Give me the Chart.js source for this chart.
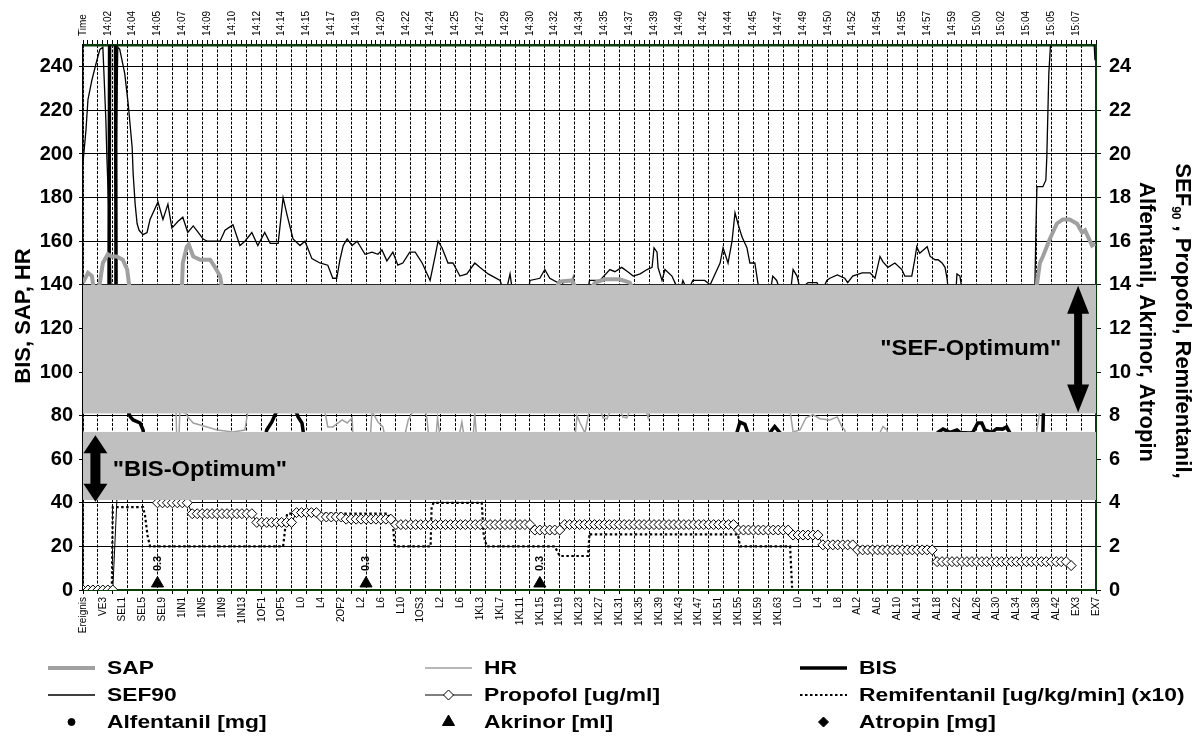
<!DOCTYPE html>
<html>
<head>
<meta charset="utf-8">
<title>Narkoseverlauf</title>
<script src="https://cdn.jsdelivr.net/npm/chart.js@4.4.0/dist/chart.umd.min.js"></script>
<style>
  html, body { margin: 0; padding: 0; background: #fff; }
  #wrap { width: 1199px; height: 736px; }
</style>
</head>
<body>
<div id="wrap"><canvas id="chart" width="1199" height="736"></canvas></div>
<script>
// one sample every 20 s, x = sample number
const eventLabels = ['Ereignis','VE3','SEL1','SEL5','SEL9','1IN1','1IN5','1IN9','1IN13','1OF1','1OF5','L0','L4',
  '2OF2','L2','L6','L10','1OS3','L2','L6','1KL3','1KL7','1KL11','1KL15','1KL19','1KL23','1KL27','1KL31','1KL35',
  '1KL39','1KL43','1KL47','1KL51','1KL55','1KL59','1KL63','L0','L4','L8','AL2','AL6','AL10','AL14','AL18','AL22',
  'AL26','AL30','AL34','AL38','AL42','EX3','EX7'];
const timeLabels = ['Time','14:02','14:04','14:05','14:07','14:09','14:10','14:12','14:14','14:15','14:17','14:19',
  '14:20','14:22','14:24','14:25','14:27','14:29','14:30','14:32','14:34','14:35','14:37','14:39','14:40','14:42',
  '14:44','14:45','14:47','14:49','14:50','14:52','14:54','14:55','14:57','14:59','15:00','15:02','15:04','15:05','15:07'];

// left axis (BIS, SAP, HR) - [sample, value]
const sap = [[0,141],[1,145.5],[1.8,144],[2.2,137],[3,137],[3.4,141],[4,150],[5,154],[5.8,153],[6.8,153],[8,151.5],
  [8.9,147],[9.5,136],[12,120],[19,120],[19.9,137],[20.1,150],[20.9,157.5],[21.3,158.5],[22.2,153],[23.6,151.5],
  [25.6,151.5],[26.6,148],[27.6,144],[28.2,136],[30,120],[94,120],[95,137],[96,141.5],[98.5,142],[99.5,137],[102,137],
  [103.1,141],[105.1,142.5],[108.1,142.5],[110.1,141],[111.2,136],[113,120],[191,120],[192.1,140],[192.7,150],
  [193.3,153],[194.7,161],[196.1,168],[197.3,170],[198.7,170],[200.2,168],[201.2,164],[201.8,165],[202.4,162],
  [203.2,158],[203.8,159]];
const hr = [[0,100],[18,100],[18.7,85],[18.9,68],[19.3,68],[19.5,82],[20.7,81],[21.1,79.4],[22.2,76.6],[25,74.8],
  [27,73.4],[30.2,72.5],[32.6,73.4],[33.2,82],[40,100],[46,100],[48.7,82],[49.3,74.8],[50.3,74.8],[52.2,78],
  [53.2,76.6],[54.2,79],[54.4,68],[57.8,68],[58.2,82],[58.7,80],[59.4,77],[60.4,74.8],[61,68],[64.5,68],[65.5,78],
  [66.5,82],[69,82],[69.3,78],[69.7,68],[71,68],[71.4,79],[72,68],[75.5,68],[76.3,77],[76.9,68],[78.5,68],[78.9,81],
  [79.3,68],[99,68],[99.5,80],[100.1,76.6],[101.1,72],[101.7,79.4],[102.2,85],[104,84],[104.7,79],[105.5,78.5],
  [106.5,84],[108,84],[108.7,79.4],[109.5,79],[110.5,84],[113.2,84],[113.8,79],[114.3,84],[125,100],[140,100],
  [142.4,82],[143,72.5],[144.4,73.4],[145.6,79],[146,79.4],[147,80.5],[148.4,78.6],[150.4,78],[151.9,79.4],
  [152.8,75],[153.4,73.4],[154,68],[160.3,68],[160.5,72.2],[161.1,75],[161.9,73.4],[162.3,68],[191.7,68],
  [192.1,73.4],[192.7,82],[195,95],[203.8,100]];
const bis = [[0,95],[5.2,95],[5.5,400],[6.4,400],[6.7,95],[8.6,90],[9.1,82],[9.5,79.5],[10.1,78],[11.5,76.6],
  [12.1,73.4],[12.7,62],[36,62],[37,73.4],[38,77],[39,82],[39.5,88],[42.5,88],[42.9,82],[43.3,79.5],[44.1,76.6],
  [44.3,73.4],[44.9,62],[131,62],[131.7,72.3],[132.3,77],[133.3,76],[133.9,72],[134.5,62],[137.7,62],[138.3,72],
  [139.3,75],[140.4,72],[141,62],[171.6,62],[172.2,72.3],[173.2,73.8],[174.6,72.3],[176,73.4],[176.6,72.3],
  [178.6,72],[179.2,72.3],[180.2,76.6],[181,76.6],[181.6,73.4],[183,72.3],[184,74],[185.2,73.8],[186,74.8],
  [186.6,72.3],[187.3,62],[192.8,62],[193.3,72],[193.5,90],[203.8,90]];

// right axis - [sample, value]
const sef = [[0,19.6],[0.6,21.1],[1,22.5],[1.8,23.4],[2.8,24.3],[3.4,24.8],[4,24.9],[4.6,21.6],[4.8,19.9],[5.4,16.2],
  [5.9,11.5],[6.5,13.8],[6.7,20],[7,24.9],[7.4,24.8],[8.4,23.7],[9.1,22.3],[9.9,20.3],[10.1,19.1],[10.5,17.7],
  [10.9,16.8],[11.3,16.5],[12.1,16.3],[12.9,16.4],[13.5,17],[15.1,17.8],[16.1,17],[17.1,17.7],[17.9,16.6],[19.1,16.9],
  [20.1,17.1],[21.1,16.4],[22.2,16.7],[23.2,16.4],[24.2,16.1],[25,16],[27.6,16],[28.6,16.5],[30.2,16.75],[31.6,15.8],
  [32.6,16],[34,16.4],[35.2,15.8],[36.6,16.4],[37.7,15.9],[39.3,15.9],[40.3,18],[41.1,17.2],[42.3,16.1],[43.7,15.8],
  [44.7,16],[46.1,15.2],[47.7,15],[49.3,14.9],[50.3,14.3],[51.1,14.3],[51.7,15.1],[52.4,15.8],[53.2,16.1],[54.2,15.8],
  [55.2,16],[56.8,15.4],[58.2,15.5],[59.4,15.4],[60.2,15.6],[61.2,15.1],[62.4,15.5],[63.4,14.9],[64.4,15],[65.8,15.5],
  [66.9,15.5],[68.3,15],[69.9,14.2],[70.9,15.3],[71.5,16],[72.3,15.7],[73.5,15],[74.5,15],[75.9,14.4],[77.3,14.5],
  [78.9,15],[79.9,14.8],[81.6,14.5],[84,14.2],[85,13.5],[86,14.5],[86.6,13.5],[89.6,13.5],[90,14.2],[92,14.3],
  [93,14.7],[94,14.3],[95.6,14.1],[96.5,14.2],[97,13.5],[98.3,13.8],[98.7,14.3],[99,13.5],[101.7,13.8],[102,14.2],
  [104.1,14.2],[106.1,14.7],[107.1,14.6],[108.5,14.8],[109.7,14.6],[110.8,14.4],[112.2,14.5],[113.6,14.7],
  [114.6,14.8],[115,15.7],[115.6,15.5],[115.8,14.8],[116.6,14.2],[117.2,14.7],[118.6,14.4],[119.2,14.1],[120.2,13.6],
  [120.8,14.2],[121.8,13.7],[122.8,14.2],[125.2,14.2],[126.3,14],[128.3,15],[128.9,15.7],[129.9,15],[130.7,16],
  [131.3,17.3],[131.9,16.8],[132.7,16.2],[133.7,15.7],[134.3,15],[135.3,15],[135.9,14.1],[136.9,13.2],[138.3,13.5],
  [138.9,14.4],[139.7,14.2],[140.7,13.5],[142.4,13.5],[143,14.7],[143.8,14.4],[144.4,13.8],[146,14.1],[147,14.1],
  [147.8,14.1],[148.8,13.7],[149.8,14.2],[150.4,14.3],[151.9,14.45],[153.4,14.3],[154,14.1],[155,14.4],[156.9,14.55],
  [158.5,14.55],[159.5,14.3],[160.5,15.3],[161.1,15.05],[162.1,14.8],[163.5,15],[164.9,14.7],[165.5,14.4],
  [166.9,14.4],[167.5,15.15],[167.9,15.75],[168.5,15.45],[170,15.75],[170.6,15.3],[171.6,15.15],[172.2,15.15],
  [173,15],[173.6,14.8],[174,14.3],[174.6,13],[175.6,13],[176,14.5],[176.6,14.4],[177.2,13.5],[178.6,11],[190.7,11],
  [191.7,14],[191.9,16.5],[192.1,18.5],[193.3,18.5],[193.9,18.8],[194.1,19.9],[194.5,23.7],[195.1,26],[203.4,26],
  [203.8,24.3]];
// Propofol, one value per sample (0..199)
const propofol = [
  0, 0, 0, 0, 0, 0, 0,
  5, 5, 5, 5, 5, 5, 5, 5,
  4, 4, 4, 4, 4, 4, 4,
  3.5, 3.5, 3.5, 3.5, 3.5, 3.5, 3.5, 3.5, 3.5, 3.5, 3.5, 3.5, 3.5,
  3.1, 3.1, 3.1, 3.1, 3.1, 3.1, 3.1, 3.1,
  3.55, 3.55, 3.55, 3.55, 3.55,
  3.35, 3.35, 3.35, 3.35, 3.35,
  3.25, 3.25, 3.25, 3.25, 3.25, 3.25, 3.25, 3.25, 3.25, 3.25,
  3, 3, 3, 3, 3, 3, 3, 3, 3, 3, 3, 3, 3, 3, 3, 3, 3, 3, 3, 3, 3, 3, 3, 3, 3, 3, 3, 3,
  2.75, 2.75, 2.75, 2.75, 2.75, 2.75,
  3, 3, 3, 3, 3, 3, 3, 3, 3, 3, 3, 3, 3, 3, 3, 3, 3, 3, 3, 3, 3, 3, 3, 3, 3, 3, 3, 3, 3, 3, 3, 3, 3, 3, 3,
  2.75, 2.75, 2.75, 2.75, 2.75, 2.75, 2.75, 2.75, 2.75, 2.75, 2.75,
  2.52, 2.52, 2.52, 2.52, 2.52, 2.52,
  2.07, 2.07, 2.07, 2.07, 2.07, 2.07, 2.07,
  1.84, 1.84, 1.84, 1.84, 1.84, 1.84, 1.84, 1.84, 1.84, 1.84, 1.84, 1.84, 1.84, 1.84, 1.84, 1.84,
  1.3, 1.3, 1.3, 1.3, 1.3, 1.3, 1.3, 1.3, 1.3, 1.3, 1.3, 1.3, 1.3, 1.3, 1.3, 1.3, 1.3, 1.3, 1.3, 1.3, 1.3, 1.3, 1.3, 1.3, 1.3, 1.3, 1.3,
  1.12
];
const remi = [[0,0],[5.8,0],[6,3.8],[12.1,3.8],[12.5,3.4],[13,2.5],[13.5,2],[40.3,2],[40.7,2.8],[41.1,3.5],[61.4,3.5],
  [62.4,3],[62.8,2],[70,2],[70.2,3.8],[70.6,4],[80.3,4],[80.7,2.5],[81.3,2],[95,2],[96,1.56],[101.7,1.56],[102,2.6],
  [102.3,2.55],[131.9,2.55],[132.3,2],[142.4,2],[142.8,0.1]];
const alfentanil = [];
const akrinor = [[15,0.3],[57,0.3],[92,0.3]];
const atropin = [];

// optimum ranges
const sefOptimum = [8.1, 14];    // right axis
const bisOptimum = [41.3, 72.5]; // left axis

const FONT = "'Liberation Sans', Arial, Helvetica, sans-serif";
const GREEN = '#0b3d0b';
Chart.defaults.font.family = FONT;
Chart.defaults.color = '#000';

const pts = pairs => pairs.map(p => ({x: p[0], y: p[1]}));

function doubleArrow(ctx, cx, yTop, yBot, headW, headL, shaftW) {
  ctx.beginPath();
  ctx.moveTo(cx, yTop);
  ctx.lineTo(cx + headW / 2, yTop + headL);
  ctx.lineTo(cx + shaftW / 2, yTop + headL);
  ctx.lineTo(cx + shaftW / 2, yBot - headL);
  ctx.lineTo(cx + headW / 2, yBot - headL);
  ctx.lineTo(cx, yBot);
  ctx.lineTo(cx - headW / 2, yBot - headL);
  ctx.lineTo(cx - shaftW / 2, yBot - headL);
  ctx.lineTo(cx - shaftW / 2, yTop + headL);
  ctx.lineTo(cx - headW / 2, yTop + headL);
  ctx.closePath();
  ctx.fill();
}

function stretchedText(ctx, text, x, y, sx) {
  ctx.save();
  ctx.translate(x, y);
  ctx.scale(sx, 1);
  ctx.fillText(text, 0, 0);
  ctx.restore();
}

// bands, arrows, labels, titles, legend
const overlay = {
  id: 'overlay',
  afterDatasetsDraw(chart) {
    const {ctx, chartArea: a, scales: {x, y, y1}} = chart;
    ctx.save();
    ctx.fillStyle = '#c0c0c0';
    const t = y1.getPixelForValue(sefOptimum[1]), b = y1.getPixelForValue(sefOptimum[0]);
    ctx.fillRect(a.left, t, a.right - a.left, b - t);
    const bt = y.getPixelForValue(bisOptimum[1]), bb = y.getPixelForValue(bisOptimum[0]);
    ctx.fillRect(a.left, bt, a.right - a.left, bb - bt);

    ctx.fillStyle = '#000';
    doubleArrow(ctx, x.getPixelForValue(200.4), t + 1, b - 1, 22, 28, 8);
    doubleArrow(ctx, x.getPixelForValue(2.5), y.getPixelForValue(71), y.getPixelForValue(40.5), 24, 18, 10);

    ctx.font = 'bold 22px ' + FONT;
    ctx.textBaseline = 'middle';
    ctx.textAlign = 'right';
    stretchedText(ctx, '"SEF-Optimum"', x.getPixelForValue(197), (t + b) / 2, 1.08);
    ctx.textAlign = 'left';
    stretchedText(ctx, '"BIS-Optimum"', x.getPixelForValue(6), (bt + bb) / 2 + 4, 1.08);

    // Akrinor dose labels
    const meta = chart.getDatasetMeta(7);
    ctx.font = 'bold 11px ' + FONT;
    ctx.textAlign = 'center';
    meta.data.forEach((el, i) => {
      ctx.save();
      ctx.translate(el.x, el.y - 20);
      ctx.rotate(-Math.PI / 2);
      ctx.fillText(String(akrinor[i][1]), 0, 0);
      ctx.restore();
    });
    ctx.restore();
  },
  afterDraw(chart) {
    const {ctx} = chart;
    ctx.save();
    ctx.fillStyle = '#000';
    ctx.textBaseline = 'middle';
    ctx.textAlign = 'center';
    // left title
    ctx.font = 'bold 22px ' + FONT;
    ctx.save();
    ctx.translate(24, 316);
    ctx.rotate(-Math.PI / 2);
    ctx.fillText('BIS, SAP, HR', 0, 0);
    ctx.restore();
    // right title, two lines, with subscript
    const big = 'bold 22px ' + FONT, small = 'bold 12px ' + FONT;
    ctx.save();
    ctx.translate(1182, 321);
    ctx.rotate(Math.PI / 2);
    ctx.textAlign = 'left';
    ctx.font = big; const w1 = ctx.measureText('SEF').width;
    ctx.font = small; const w2 = ctx.measureText('90').width;
    ctx.font = big; const w3 = ctx.measureText(' , Propofol, Remifentanil,').width;
    const sx = -(w1 + w2 + w3) / 2;
    ctx.fillText('SEF', sx, 0);
    ctx.font = small; ctx.fillText('90', sx + w1, 7);
    ctx.font = big; ctx.fillText(' , Propofol, Remifentanil,', sx + w1 + w2, 0);
    ctx.restore();
    ctx.save();
    ctx.translate(1146, 322);
    ctx.rotate(Math.PI / 2);
    ctx.font = big;
    ctx.fillText('Alfentanil, Akrinor, Atropin', 0, 0);
    ctx.restore();

    // legend, 3 x 3
    const colX = [48, 425, 800], rowY = [668, 695, 722];
    ctx.textAlign = 'left';
    ctx.font = 'bold 19px ' + FONT;
    chart.data.datasets.forEach((ds, i) => {
      const cx = colX[i % 3], cy = rowY[Math.floor(i / 3)];
      if (ds.showLine !== false) {
        ctx.save();
        ctx.strokeStyle = ds.borderColor;
        ctx.lineWidth = ds.borderWidth;
        ctx.setLineDash(ds.borderDash || []);
        ctx.beginPath();
        ctx.moveTo(cx, cy);
        ctx.lineTo(cx + 47, cy);
        ctx.stroke();
        ctx.restore();
      }
      if (ds.pointRadius > 0) {
        ctx.save();
        ctx.fillStyle = ds.pointBackgroundColor || ds.backgroundColor;
        ctx.strokeStyle = ds.pointBorderColor || ds.borderColor;
        ctx.lineWidth = 1;
        Chart.helpers.drawPoint(ctx, {pointStyle: ds.pointStyle, radius: ds.pointRadius, borderWidth: 1, rotation: 0},
          cx + 23.5, cy);
        ctx.restore();
      }
      stretchedText(ctx, ds.label, cx + 59, cy + 1, 1.2);
    });
    ctx.restore();
  }
};

const chart = new Chart(document.getElementById('chart'), {
  type: 'line',
  data: {
    datasets: [
      {label: 'SAP', data: pts(sap), yAxisID: 'y', borderColor: '#a0a0a0', borderWidth: 4, pointRadius: 0},
      {label: 'HR', data: pts(hr), yAxisID: 'y', borderColor: '#a0a0a0', borderWidth: 1.5, pointRadius: 0},
      {label: 'BIS', data: pts(bis), yAxisID: 'y', borderColor: '#000', borderWidth: 3.5, pointRadius: 0},
      {label: 'SEF90', data: pts(sef), yAxisID: 'y1', borderColor: '#000', borderWidth: 1.3, pointRadius: 0},
      {label: 'Propofol [ug/ml]', data: propofol.map((v, i) => ({x: i, y: v})), yAxisID: 'y1', borderColor: '#000',
        borderWidth: 1, pointStyle: 'rectRot', pointRadius: 5, pointBorderWidth: 1, pointBackgroundColor: '#fff',
        pointBorderColor: '#000'},
      {label: 'Remifentanil [ug/kg/min] (x10)', data: pts(remi), yAxisID: 'y1', borderColor: '#000', borderWidth: 2.2,
        borderDash: [2.5, 2.5], pointRadius: 0},
      {label: 'Alfentanil [mg]', data: pts(alfentanil), yAxisID: 'y1', showLine: false, pointStyle: 'circle',
        pointRadius: 3.5, backgroundColor: '#000', borderColor: '#000'},
      {label: 'Akrinor [ml]', data: pts(akrinor), yAxisID: 'y1', showLine: false, pointStyle: 'triangle',
        pointRadius: 7, backgroundColor: '#000', borderColor: '#000'},
      {label: 'Atropin [mg]', data: pts(atropin), yAxisID: 'y1', showLine: false, pointStyle: 'rectRot',
        pointRadius: 5, backgroundColor: '#000', borderColor: '#000'}
    ]
  },
  options: {
    responsive: false,
    animation: false,
    devicePixelRatio: 1,
    layout: {padding: 0},
    elements: {line: {tension: 0}},
    plugins: {legend: {display: false}, tooltip: {enabled: false}},
    scales: {
      x: {
        type: 'linear', position: 'bottom', min: 0, max: 204,
        afterFit(s) { s.height = 146; },
        ticks: {
          stepSize: 1, autoSkip: false, minRotation: 90, maxRotation: 90, padding: 3,
          font: {size: 10},
          callback: v => (v % 4 === 0 ? eventLabels[v / 4] : '')
        },
        grid: {
          color: c => (c.tick && c.tick.value % 3 === 0 ? '#000' : 'rgba(0,0,0,0)'),
          tickColor: c => (c.tick && c.tick.value % 3 === 0 ? '#000' : 'rgba(0,0,0,0)'),
          lineWidth: 1, tickLength: 4
        },
        border: {color: GREEN, width: 2, dash: [3, 1.5]}
      },
      xt: {
        type: 'linear', position: 'top', min: 0, max: 204,
        afterFit(s) { s.height = 45; },
        ticks: {
          stepSize: 1, autoSkip: false, minRotation: 90, maxRotation: 90, padding: 4, labelOffset: 12,
          font: {size: 10},
          callback: v => (v % 5 === 0 ? timeLabels[v / 5] : '')
        },
        grid: {drawOnChartArea: false, tickLength: 5, tickColor: '#000'},
        border: {color: GREEN, width: 2.5}
      },
      y: {
        type: 'linear', position: 'left', min: 0, max: 250,
        afterFit(s) { s.width = 83; },
        ticks: {stepSize: 20, includeBounds: false, padding: 6, font: {size: 20, weight: 'bold'}},
        grid: {color: '#000', lineWidth: 1, tickLength: 4},
        border: {color: '#000', width: 1.5}
      },
      y1: {
        type: 'linear', position: 'right', min: 0, max: 25,
        afterFit(s) { s.width = 103; },
        ticks: {stepSize: 2, includeBounds: false, padding: 8, font: {size: 20, weight: 'bold'}},
        grid: {drawOnChartArea: false, tickLength: 5, tickColor: '#000'},
        border: {color: GREEN, width: 2}
      }
    }
  },
  plugins: [overlay]
});
</script>
</body>
</html>
